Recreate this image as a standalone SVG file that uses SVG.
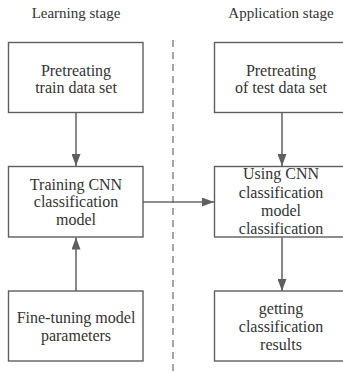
<svg xmlns="http://www.w3.org/2000/svg" width="343" height="373" viewBox="0 0 343 373">
<style>
.box{fill:#fff;stroke:#5f5f5f;stroke-width:1.4}
.t{font-size:16px;fill:#333;text-anchor:middle}
.h{font-size:15px;fill:#333;text-anchor:middle}
.c{stroke:#6a6a6a;stroke-width:1.6;fill:none}
</style>
<defs>
<marker id="ah" markerWidth="12" markerHeight="9" refX="12" refY="4.5" orient="auto" markerUnits="userSpaceOnUse">
<path d="M0,0 L12,4.5 L0,9 Z" fill="#5f5f5f"/>
</marker>
</defs>
<rect width="343" height="373" fill="#fff"/>
<g font-family="'Liberation Serif', 'DejaVu Serif', serif">
<text class="h" x="76" y="18">Learning stage</text>
<text class="h" x="281" y="18">Application stage</text>
<line x1="173" y1="40" x2="173" y2="372" stroke="#6a6a6a" stroke-width="1.2" stroke-dasharray="7,5"/>
<g id="connectors">
<line class="c" x1="76" y1="112.5" x2="76" y2="166" marker-end="url(#ah)"/>
<line class="c" x1="76" y1="291" x2="76" y2="237.5" marker-end="url(#ah)"/>
<line class="c" x1="143" y1="202" x2="214" y2="202" marker-end="url(#ah)"/>
<line class="c" x1="282" y1="112.5" x2="282" y2="166" marker-end="url(#ah)"/>
<line class="c" x1="282" y1="237.5" x2="282" y2="291" marker-end="url(#ah)"/>
</g>
<g id="pretrain">
<rect class="box" x="8.5" y="42.5" width="134.5" height="70"/>
<text class="t" x="76" y="76">Pretreating</text>
<text class="t" x="76" y="93">train data set</text>
</g>
<g id="training">
<rect class="box" x="8.5" y="166.5" width="134.5" height="70.5"/>
<text class="t" x="76" y="189.5">Training CNN</text>
<text class="t" x="76" y="207">classification</text>
<text class="t" x="76" y="224.5">model</text>
</g>
<g id="finetune">
<rect class="box" x="8.5" y="291" width="134.5" height="70"/>
<text class="t" x="76" y="323">Fine-tuning model</text>
<text class="t" x="76" y="341">parameters</text>
</g>
<g id="pretest">
<rect class="box" x="214.5" y="42.5" width="132" height="70"/>
<text class="t" x="281" y="76">Pretreating</text>
<text class="t" x="281" y="93">of test data set</text>
</g>
<g id="using">
<rect class="box" x="214.5" y="166.5" width="132" height="70.5"/>
<text class="t" x="281" y="179">Using CNN</text>
<text class="t" x="281" y="197.5">classification</text>
<text class="t" x="281" y="216">model</text>
<text class="t" x="281" y="234">classification</text>
</g>
<g id="results">
<rect class="box" x="214.5" y="291" width="132" height="70"/>
<text class="t" x="281" y="314">getting</text>
<text class="t" x="281" y="332">classification</text>
<text class="t" x="281" y="350">results</text>
</g>
</g>
</svg>
